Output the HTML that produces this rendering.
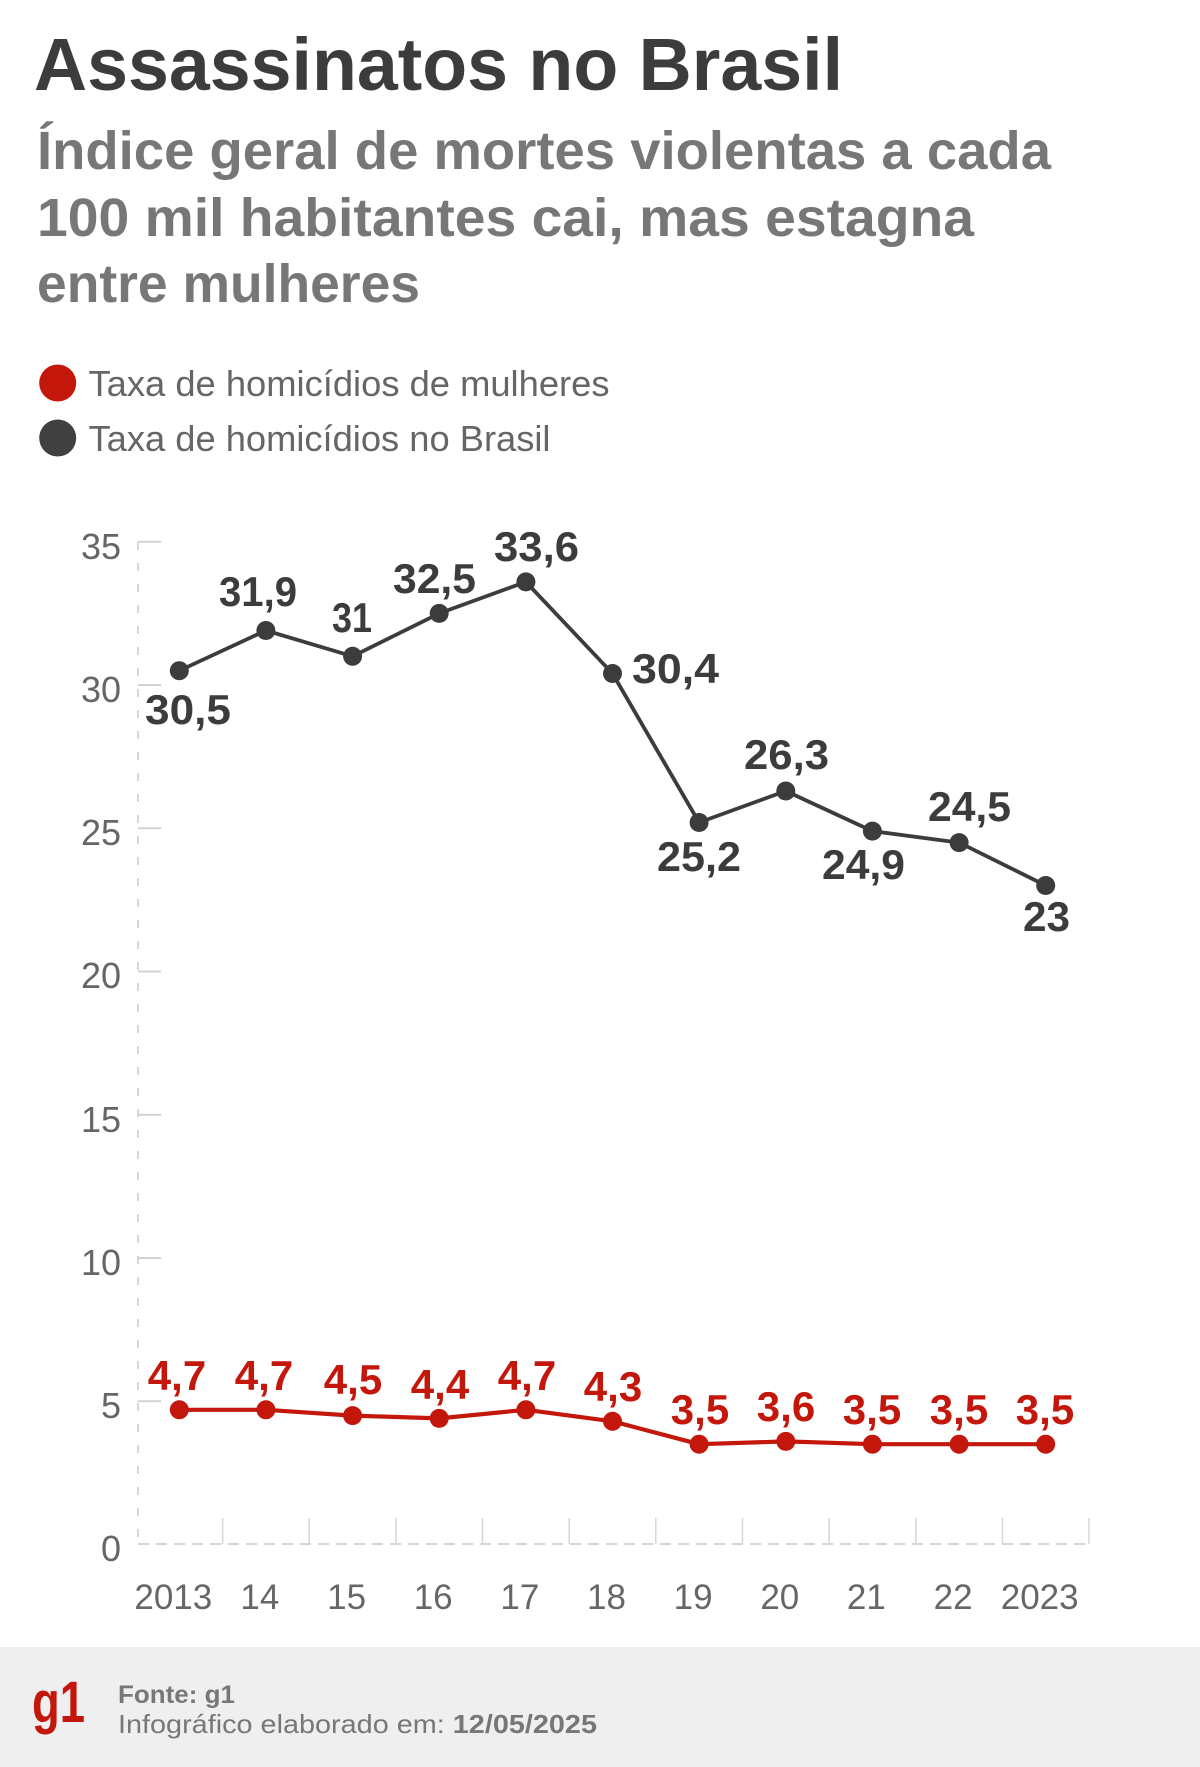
<!DOCTYPE html>
<html>
<head>
<meta charset="utf-8">
<style>
  html, body { margin:0; padding:0; background:#ffffff; }
  body { width:1200px; height:1767px; overflow:hidden; }
  svg { display:block; }
  text { font-family: "Liberation Sans", "DejaVu Sans", sans-serif; }
</style>
</head>
<body>
<svg width="1200" height="1767" viewBox="0 0 1200 1767" xmlns="http://www.w3.org/2000/svg">
  <rect x="0" y="0" width="1200" height="1767" fill="#ffffff"/>

  <!-- Title -->
  <text x="34" y="90" font-size="74" font-weight="bold" fill="#3c3c3c" textLength="809" lengthAdjust="spacingAndGlyphs">Assassinatos no Brasil</text>

  <!-- Subtitle -->
  <text x="37" y="169" font-size="54" font-weight="bold" fill="#777777" textLength="1014" lengthAdjust="spacingAndGlyphs">Índice geral de mortes violentas a cada</text>
  <text x="37" y="236" font-size="54" font-weight="bold" fill="#777777" textLength="937" lengthAdjust="spacingAndGlyphs">100 mil habitantes cai, mas estagna</text>
  <text x="37" y="302" font-size="54" font-weight="bold" fill="#777777" textLength="383" lengthAdjust="spacingAndGlyphs">entre mulheres</text>

  <!-- Legend -->
  <circle cx="57.7" cy="383" r="18.5" fill="#c4170c"/>
  <text x="88.5" y="396" font-size="36" fill="#666666" textLength="521" lengthAdjust="spacingAndGlyphs">Taxa de homicídios de mulheres</text>
  <circle cx="57.7" cy="438" r="18.5" fill="#404040"/>
  <text x="88.5" y="451" font-size="36" fill="#666666" textLength="462" lengthAdjust="spacingAndGlyphs">Taxa de homicídios no Brasil</text>

  <!-- Y axis -->
  <line x1="138" y1="542" x2="138" y2="1544" stroke="#c8c8c8" stroke-width="1.5" stroke-dasharray="8 13"/>
  <g stroke="#d2d2d2" stroke-width="2">
    <line x1="138" y1="541.75" x2="161" y2="541.75"/>
    <line x1="138" y1="685" x2="161" y2="685"/>
    <line x1="138" y1="828.25" x2="161" y2="828.25"/>
    <line x1="138" y1="971.5" x2="161" y2="971.5"/>
    <line x1="138" y1="1114.75" x2="161" y2="1114.75"/>
    <line x1="138" y1="1258" x2="161" y2="1258"/>
    <line x1="138" y1="1401.25" x2="161" y2="1401.25"/>
  </g>
  <g font-size="36" fill="#666666" text-anchor="end">
    <text x="121" y="559">35</text>
    <text x="121" y="702">30</text>
    <text x="121" y="845">25</text>
    <text x="121" y="988">20</text>
    <text x="121" y="1132">15</text>
    <text x="121" y="1275">10</text>
    <text x="121" y="1418">5</text>
    <text x="121" y="1561">0</text>
  </g>

  <!-- X axis -->
  <line x1="138" y1="1544" x2="1089" y2="1544" stroke="#c8c8c8" stroke-width="1.5" stroke-dasharray="11 7"/>
  <g stroke="#d6d6d6" stroke-width="1.5">
    <line x1="222.6" y1="1518" x2="222.6" y2="1544"/>
    <line x1="309.2" y1="1518" x2="309.2" y2="1544"/>
    <line x1="395.9" y1="1518" x2="395.9" y2="1544"/>
    <line x1="482.5" y1="1518" x2="482.5" y2="1544"/>
    <line x1="569.2" y1="1518" x2="569.2" y2="1544"/>
    <line x1="655.8" y1="1518" x2="655.8" y2="1544"/>
    <line x1="742.5" y1="1518" x2="742.5" y2="1544"/>
    <line x1="829.1" y1="1518" x2="829.1" y2="1544"/>
    <line x1="915.8" y1="1518" x2="915.8" y2="1544"/>
    <line x1="1002.4" y1="1518" x2="1002.4" y2="1544"/>
    <line x1="1089" y1="1518" x2="1089" y2="1544"/>
  </g>
  <g font-size="35" fill="#666666" text-anchor="middle">
    <text x="173.3" y="1609">2013</text>
    <text x="259.9" y="1609">14</text>
    <text x="346.6" y="1609">15</text>
    <text x="433.2" y="1609">16</text>
    <text x="519.9" y="1609">17</text>
    <text x="606.5" y="1609">18</text>
    <text x="693.1" y="1609">19</text>
    <text x="779.8" y="1609">20</text>
    <text x="866.4" y="1609">21</text>
    <text x="953.1" y="1609">22</text>
    <text x="1039.7" y="1609">2023</text>
  </g>

  <!-- Black series -->
  <polyline fill="none" stroke="#3c3c3c" stroke-width="3.8" stroke-linejoin="round"
    points="179.3,670.7 265.9,630.5 352.6,656.3 439.2,613.4 525.9,581.9 612.5,673.5 699.1,822.5 785.8,791.0 872.4,831.1 959.1,842.6 1045.7,885.5"/>
  <g fill="#3c3c3c">
    <circle cx="179.3" cy="670.7" r="9.5"/>
    <circle cx="265.9" cy="630.5" r="9.5"/>
    <circle cx="352.6" cy="656.3" r="9.5"/>
    <circle cx="439.2" cy="613.4" r="9.5"/>
    <circle cx="525.9" cy="581.9" r="9.5"/>
    <circle cx="612.5" cy="673.5" r="9.5"/>
    <circle cx="699.1" cy="822.5" r="9.5"/>
    <circle cx="785.8" cy="791.0" r="9.5"/>
    <circle cx="872.4" cy="831.1" r="9.5"/>
    <circle cx="959.1" cy="842.6" r="9.5"/>
    <circle cx="1045.7" cy="885.5" r="9.5"/>
  </g>
  <g font-size="42" font-weight="bold" fill="#3c3c3c">
    <text x="145" y="724" textLength="86" lengthAdjust="spacingAndGlyphs">30,5</text>
    <text x="219" y="606" textLength="78" lengthAdjust="spacingAndGlyphs">31,9</text>
    <text x="332" y="632" textLength="40" lengthAdjust="spacingAndGlyphs">31</text>
    <text x="393" y="593" textLength="83" lengthAdjust="spacingAndGlyphs">32,5</text>
    <text x="494" y="561" textLength="85" lengthAdjust="spacingAndGlyphs">33,6</text>
    <text x="632" y="683" textLength="87" lengthAdjust="spacingAndGlyphs">30,4</text>
    <text x="657" y="871" textLength="84" lengthAdjust="spacingAndGlyphs">25,2</text>
    <text x="744" y="769" textLength="85" lengthAdjust="spacingAndGlyphs">26,3</text>
    <text x="822" y="879" textLength="83" lengthAdjust="spacingAndGlyphs">24,9</text>
    <text x="928" y="821" textLength="83" lengthAdjust="spacingAndGlyphs">24,5</text>
    <text x="1023" y="931" textLength="47" lengthAdjust="spacingAndGlyphs">23</text>
  </g>

  <!-- Red series -->
  <polyline fill="none" stroke="#c4170c" stroke-width="4.2" stroke-linejoin="round"
    points="179.3,1409.8 265.9,1409.8 352.6,1415.6 439.2,1418.4 525.9,1409.8 612.5,1421.3 699.1,1444.2 785.8,1441.4 872.4,1444.2 959.1,1444.2 1045.7,1444.2"/>
  <g fill="#c4170c">
    <circle cx="179.3" cy="1409.8" r="9.5"/>
    <circle cx="265.9" cy="1409.8" r="9.5"/>
    <circle cx="352.6" cy="1415.6" r="9.5"/>
    <circle cx="439.2" cy="1418.4" r="9.5"/>
    <circle cx="525.9" cy="1409.8" r="9.5"/>
    <circle cx="612.5" cy="1421.3" r="9.5"/>
    <circle cx="699.1" cy="1444.2" r="9.5"/>
    <circle cx="785.8" cy="1441.4" r="9.5"/>
    <circle cx="872.4" cy="1444.2" r="9.5"/>
    <circle cx="959.1" cy="1444.2" r="9.5"/>
    <circle cx="1045.7" cy="1444.2" r="9.5"/>
  </g>
  <g font-size="42" font-weight="bold" fill="#c4170c" text-anchor="middle">
    <text x="177" y="1390">4,7</text>
    <text x="264" y="1390">4,7</text>
    <text x="353" y="1394">4,5</text>
    <text x="440" y="1399">4,4</text>
    <text x="527" y="1390">4,7</text>
    <text x="613" y="1401">4,3</text>
    <text x="700" y="1424">3,5</text>
    <text x="786" y="1421">3,6</text>
    <text x="872" y="1424">3,5</text>
    <text x="959" y="1424">3,5</text>
    <text x="1045" y="1424">3,5</text>
  </g>

  <!-- Footer -->
  <rect x="0" y="1647" width="1200" height="120" fill="#efefef"/>
  <text x="32" y="1722" font-size="58" font-weight="bold" fill="#c4170c" textLength="53" lengthAdjust="spacingAndGlyphs">g1</text>
  <text x="118" y="1703" font-size="25" font-weight="bold" fill="#777777" textLength="117" lengthAdjust="spacingAndGlyphs">Fonte: g1</text>
  <text x="118" y="1733" font-size="26" fill="#777777" textLength="479" lengthAdjust="spacingAndGlyphs">Infográfico elaborado em: <tspan font-weight="bold">12/05/2025</tspan></text>
</svg>
</body>
</html>
